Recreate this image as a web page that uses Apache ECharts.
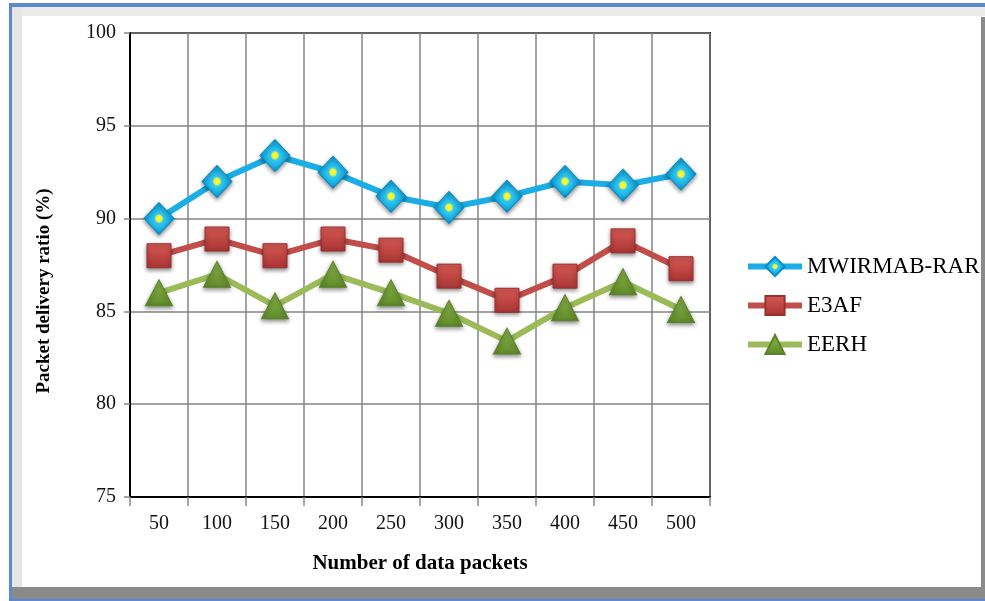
<!DOCTYPE html>
<html>
<head>
<meta charset="utf-8">
<script src="https://cdn.jsdelivr.net/npm/echarts@6/dist/echarts.min.js"></script>
<style>
  html, body { margin: 0; padding: 0; background: #fff; }
  #main { width: 985px; height: 601px; }
</style>
</head>
<body>
<div id="main"></div>
<script>
// data
var packets = ['50', '100', '150', '200', '250', '300', '350', '400', '450', '500'];
var mwirmabRar = [90.0, 92.0, 93.4, 92.5, 91.2, 90.6, 91.2, 92.0, 91.8, 92.4];
var e3af = [88.0, 88.9, 88.0, 88.9, 88.3, 86.9, 85.6, 86.9, 88.8, 87.3];
var eerh = [86.0, 87.0, 85.3, 87.0, 86.0, 84.9, 83.4, 85.2, 86.6, 85.1];

var chart = echarts.init(document.getElementById('main'));
var serif = '"Liberation Serif", "DejaVu Serif", serif';

var markShadow = {
  shadowBlur: 4,
  shadowColor: 'rgba(0,0,0,0.45)',
  shadowOffsetY: 2
};

var option = {
  backgroundColor: '#fff',
  animation: false,
  // outer frame of the figure
  graphic: [
    { type: 'rect', silent: true, shape: { x: 12, y: 7, width: 975, height: 9 }, style: { fill: '#ebebeb' } },
    { type: 'rect', silent: true, shape: { x: 12, y: 7, width: 10, height: 581 }, style: { fill: '#e6e6e6' } },
    { type: 'rect', silent: true, shape: { x: 12, y: 587, width: 975, height: 12 }, style: { fill: '#8a8a8a' } },
    { type: 'rect', silent: true, shape: { x: 981, y: 17, width: 6, height: 582 }, style: { fill: '#8a8a8a' } },
    { type: 'rect', silent: true, shape: { x: 9, y: 3, width: 980, height: 4 }, style: { fill: '#5b8ad0' } },
    { type: 'rect', silent: true, shape: { x: 9, y: 3, width: 3, height: 598 }, style: { fill: '#5b8ad0' } },
    { type: 'rect', silent: true, shape: { x: 9, y: 599, width: 980, height: 3 }, style: { fill: '#5b8ad0' } }
  ],
  grid: {
    left: 130,
    right: 275,
    top: 33,
    bottom: 104,
    show: true,
    borderColor: '#000',
    borderWidth: 2,
    backgroundColor: 'transparent'
  },
  legend: {
    orient: 'vertical',
    left: 740,
    top: 250,
    itemWidth: 54,
    itemHeight: 24,
    itemGap: 16,
    lineStyle: { width: 6 },
    textStyle: { fontFamily: serif, fontSize: 23, color: '#000' },
    data: ['MWIRMAB-RAR', 'E3AF', 'EERH']
  },
  xAxis: {
    type: 'category',
    data: packets,
    boundaryGap: true,
    name: 'Number of data packets',
    nameLocation: 'middle',
    nameGap: 56,
    nameTextStyle: { fontFamily: serif, fontSize: 21, fontWeight: 'bold', color: '#000' },
    axisLine: { lineStyle: { color: '#000', width: 2 } },
    axisTick: { show: true, length: 9, lineStyle: { color: '#888', width: 1.5 } },
    axisLabel: { fontFamily: serif, fontSize: 20, color: '#111', margin: 17 },
    splitLine: { show: true, lineStyle: { color: '#858585', width: 1.5 } }
  },
  yAxis: {
    type: 'value',
    min: 75,
    max: 100,
    interval: 5,
    name: 'Packet delivery ratio (%)',
    nameLocation: 'middle',
    nameGap: 76,
    nameTextStyle: { fontFamily: serif, fontSize: 19, fontWeight: 'bold', color: '#000', padding: [0, 52, 0, 0] },
    axisLine: { show: true, lineStyle: { color: '#000', width: 2 } },
    axisTick: { show: true, length: 6, lineStyle: { color: '#888', width: 1.5 } },
    axisLabel: { fontFamily: serif, fontSize: 20, color: '#111', margin: 14 },
    splitLine: { show: true, lineStyle: { color: '#858585', width: 1.5 } }
  },
  series: [
    {
      name: 'MWIRMAB-RAR',
      type: 'line',
      data: mwirmabRar,
      symbol: 'diamond',
      symbolSize: [30, 32],
      lineStyle: { color: '#1badE6', width: 6 },
      itemStyle: Object.assign({
        color: {
          type: 'radial', x: 0.5, y: 0.5, r: 0.5,
          colorStops: [
            { offset: 0, color: '#ffff20' },
            { offset: 0.18, color: '#f0f040' },
            { offset: 0.3, color: '#30c8f0' },
            { offset: 0.8, color: '#14a8e0' },
            { offset: 1, color: '#0a88c0' }
          ]
        },
        borderColor: '#0a8cc4',
        borderWidth: 1
      }, markShadow),
      z: 4
    },
    {
      name: 'E3AF',
      type: 'line',
      data: e3af,
      symbol: 'rect',
      symbolSize: 24,
      lineStyle: { color: '#c24e4b', width: 6 },
      itemStyle: Object.assign({
        color: {
          type: 'linear', x: 0, y: 0, x2: 0, y2: 1,
          colorStops: [
            { offset: 0, color: '#d85a56' },
            { offset: 1, color: '#a83432' }
          ]
        },
        borderColor: '#9a302e',
        borderWidth: 1
      }, markShadow),
      z: 3
    },
    {
      name: 'EERH',
      type: 'line',
      data: eerh,
      symbol: 'triangle',
      symbolSize: [27, 26],
      lineStyle: { color: '#9bbb59', width: 6 },
      itemStyle: Object.assign({
        color: {
          type: 'linear', x: 0, y: 0, x2: 0, y2: 1,
          colorStops: [
            { offset: 0, color: '#8ab548' },
            { offset: 1, color: '#5f8a2a' }
          ]
        },
        borderColor: '#5a8228',
        borderWidth: 1
      }, markShadow),
      z: 2
    }
  ]
};

chart.setOption(option);
</script>
</body>
</html>
